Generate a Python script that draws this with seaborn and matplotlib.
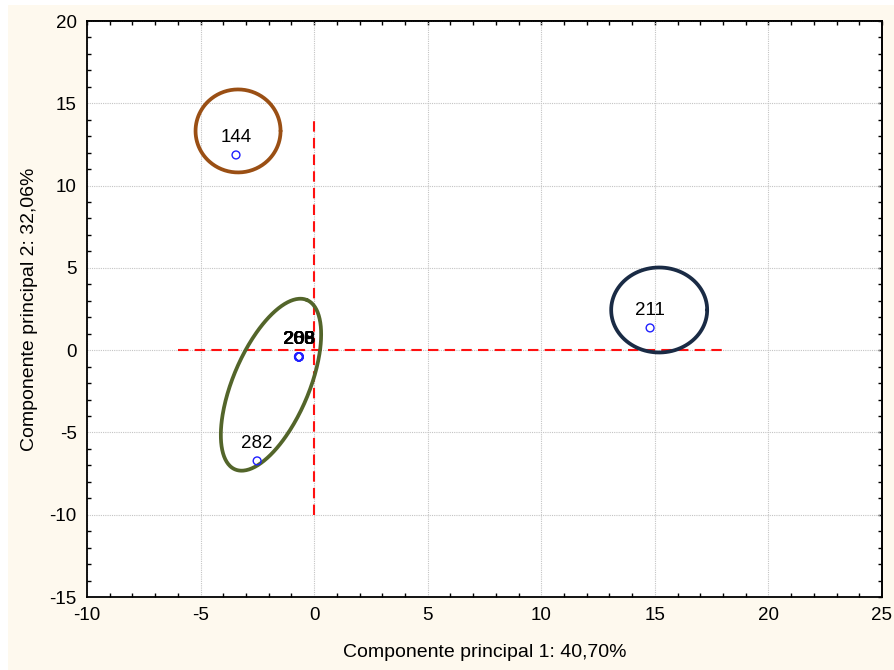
import numpy as np
import pandas as pd
import matplotlib
matplotlib.use("Agg")
import matplotlib.pyplot as plt
import seaborn as sns
from matplotlib.ticker import MultipleLocator, AutoMinorLocator

sns.set_style("white")
plt.rcParams['font.family'] = ['Liberation Sans', 'DejaVu Sans']
plt.rcParams['axes.unicode_minus'] = False
plt.rcParams['text.color'] = 'black'
plt.rcParams['axes.labelcolor'] = 'black'
plt.rcParams['xtick.color'] = 'black'
plt.rcParams['ytick.color'] = 'black'

# ---- data ----
labels = ["144", "211", "282", "200", "203", "205", "206", "208", "209", "266", "288"]
pc1 = [-3.44, 14.79, -2.51, -0.67, -0.66, -0.68, -0.67, -0.65, -0.69, -0.67, -0.66]
pc2 = [11.86, 1.35, -6.73, -0.41, -0.40, -0.42, -0.41, -0.41, -0.40, -0.42, -0.41]

# group ellipses: centre x, centre y, semi axes (px), angle (deg), colour
ell_cx = [-3.35, 15.19, -1.90]
ell_cy = [13.32, 2.44, -2.10]
ell_a = [42.5, 48.0, 92.0]
ell_b = [41.5, 42.5, 38.0]
ell_ang = [0, 0, 67]
ell_col = ["#9A4F14", "#1A2B45", "#53652A"]

df = pd.DataFrame({"pc1": pc1, "pc2": pc2, "label": labels})

fig = plt.figure(figsize=(8.95, 6.7), dpi=100, facecolor="white")
fig.patches.append(plt.Rectangle((8 / 895, 0), 1, 1 - 5 / 670, transform=fig.transFigure,
                                 facecolor="#FEF9EE", edgecolor="none", zorder=-10))
ax = fig.add_axes([87 / 895, 73 / 670, 795 / 895, 576 / 670])
ax.set_facecolor("white")

# dashed reference axes
ax.plot([-6, 18], [0, 0], color="#FF1010", ls=(0, (5, 3)), lw=1.5, zorder=2)
ax.plot([0, 0], [-10, 14], color="#FF1010", ls=(0, (5, 3)), lw=1.5, zorder=2)

sns.scatterplot(data=df, x="pc1", y="pc2", ax=ax, marker="o", s=32,
                facecolors="none", edgecolor="#2020FF", linewidth=1.0, zorder=4)

for _, r in df.iterrows():
    ax.annotate(r["label"], (r["pc1"], r["pc2"]), xytext=(0, 12.5), textcoords="offset points",
                ha="center", va="center", fontsize=13.5, color="black", zorder=5)

ax.set_xlim(-10, 25)
ax.set_ylim(-15, 20)

# ellipses drawn in pixel space so the shapes match on screen
sx = 795 / 35
sy = 576 / 35
t = np.linspace(0, 2 * np.pi, 300)
for cx, cy, a, b, ang, col in zip(ell_cx, ell_cy, ell_a, ell_b, ell_ang, ell_col):
    th = np.deg2rad(ang)
    u = a * np.cos(t)
    v = b * np.sin(t)
    dx = (u * np.cos(th) - v * np.sin(th)) / sx
    dy = (u * np.sin(th) + v * np.cos(th)) / sy
    ax.plot(cx + dx, cy + dy, color=col, lw=2.7, zorder=3)

ax.xaxis.set_major_locator(MultipleLocator(5))
ax.yaxis.set_major_locator(MultipleLocator(5))
ax.xaxis.set_minor_locator(AutoMinorLocator(5))
ax.yaxis.set_minor_locator(AutoMinorLocator(5))
ax.grid(True, which="major", color="#C4C4C4", ls=(0, (1, 1)), lw=0.8)
ax.set_axisbelow(True)
ax.tick_params(which="major", direction="out", length=4, width=1, labelsize=13.5, color="black")
ax.tick_params(which="minor", direction="in", length=3, width=1, color="black",
               bottom=True, left=True)

for side in ["top", "right"]:
    sec = ax.secondary_xaxis("top") if side == "top" else ax.secondary_yaxis("right")
    axis = sec.xaxis if side == "top" else sec.yaxis
    axis.set_major_locator(MultipleLocator(5))
    axis.set_minor_locator(AutoMinorLocator(5))
    sec.tick_params(which="both", direction="in", length=3, width=1, labelsize=0)
    axis.set_ticklabels([])
    for sp in sec.spines.values():
        sp.set_linewidth(1.3)

for sp in ax.spines.values():
    sp.set_color("black")
    sp.set_linewidth(1.3)

ax.set_xlabel("Componente principal 1: 40,70%", fontsize=14, labelpad=14)
ax.set_ylabel("Componente principal 2: 32,06%", fontsize=14, labelpad=8)

fig.savefig("out.png", dpi=100, facecolor=fig.get_facecolor())
